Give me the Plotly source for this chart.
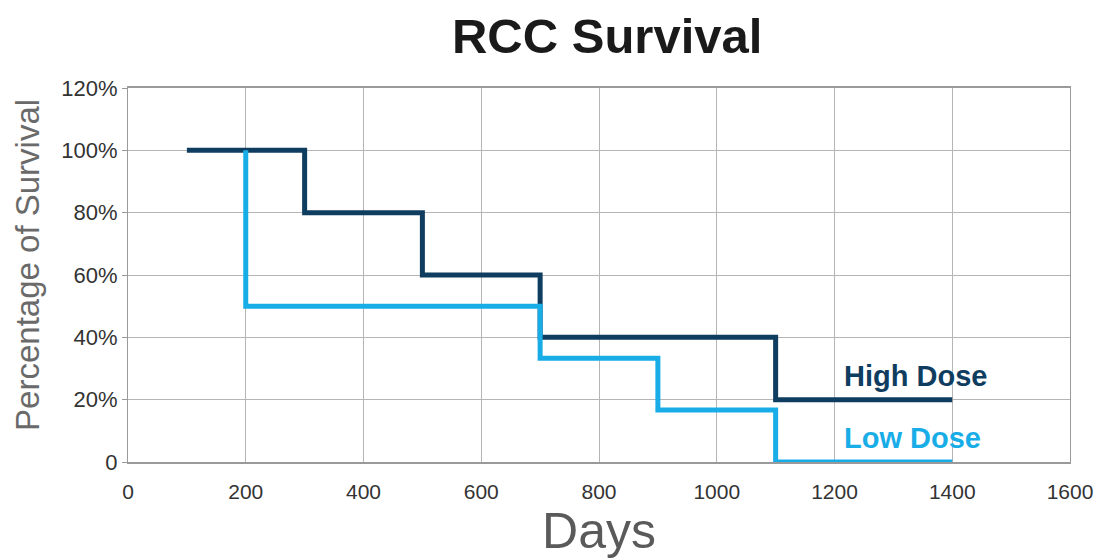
import plotly.graph_objects as go

high_days = [100, 300, 500, 700, 1100, 1400]
high_surv = [100, 80, 60, 40, 20, 20]
low_days = [200, 200, 700, 900, 1100, 1400]
low_surv = [100, 50, 33.3, 16.7, 0, 0]

y_ticks = [0, 20, 40, 60, 80, 100, 120]
y_labels = ["0", "20%", "40%", "60%", "80%", "100%", "120%"]
x_ticks = [0, 200, 400, 600, 800, 1000, 1200, 1400, 1600]

HIGH = "#0f3d5f"
LOW = "#19ade8"

fig = go.Figure()
fig.add_trace(go.Scatter(x=high_days, y=high_surv, mode="lines", line=dict(shape="hv", color=HIGH, width=5), name="High Dose"))
fig.add_trace(go.Scatter(x=low_days, y=low_surv, mode="lines", line=dict(shape="hv", color=LOW, width=5), name="Low Dose"))

fig.add_annotation(x=1200, y=high_surv[-1], text="<b>High Dose</b>", showarrow=False, xanchor="left", yanchor="bottom", yshift=6, xshift=7,
                   font=dict(family="Liberation Sans, Arial", size=29, color=HIGH))
fig.add_annotation(x=1200, y=low_surv[-1], text="<b>Low Dose</b>", showarrow=False, xanchor="left", yanchor="bottom", yshift=6, xshift=7,
                   font=dict(family="Liberation Sans, Arial", size=29, color=LOW))

# y axis title placed as rotated annotation
fig.add_annotation(x=0, y=0.527, xref="paper", yref="paper", text="Percentage of Survival", textangle=-90,
                   showarrow=False, xanchor="center", yanchor="middle", xshift=-100,
                   font=dict(family="Liberation Sans, Arial", size=33, color="#6a6a6a"))

fig.update_layout(
    width=1100, height=559,
    margin=dict(l=128, r=30, t=88, b=97),
    paper_bgcolor="white", plot_bgcolor="white",
    showlegend=False,
    title=dict(text="<b>RCC Survival</b>", x=0.552, xanchor="center", y=0.935, yanchor="middle",
               font=dict(family="Liberation Sans, Arial", size=49, color="#1a1a1a")),
    font=dict(family="Liberation Sans, Arial", color="#333333"),
)
fig.update_xaxes(range=[0, 1600], tickvals=x_ticks, showgrid=True, gridcolor="#b5b5b5", gridwidth=1,
                 showline=True, linecolor="#9a9a9a", linewidth=2, mirror=True, zeroline=False,
                 tickfont=dict(size=21, color="#333333"), ticks="", ticklabelstandoff=10, automargin=False,
                 title=dict(text="Days", font=dict(size=50, color="#5a5a5a"), standoff=14))
fig.update_yaxes(range=[0, 120], tickvals=y_ticks, ticktext=y_labels, showgrid=True, gridcolor="#b5b5b5", gridwidth=1,
                 showline=True, linecolor="#9a9a9a", linewidth=1, mirror=True, zeroline=False,
                 ticks="outside", ticklen=5, tickcolor="#9a9a9a", automargin=False,
                 tickfont=dict(size=22, color="#333333"))

fig.write_html("out.html")
